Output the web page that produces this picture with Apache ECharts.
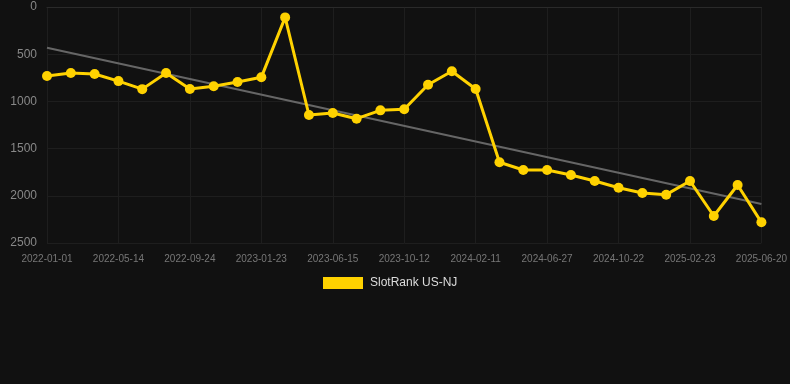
<!DOCTYPE html>
<html><head><meta charset="utf-8">
<script src="https://cdn.jsdelivr.net/npm/echarts@6/dist/echarts.min.js"></script>
<style>html,body{margin:0;padding:0;background:#111111;}#c{width:790px;height:384px;}</style>
</head><body><div id="c"></div>
<script>
var categories = ["2022-01-01","2022-02-14","2022-03-30","2022-05-14","2022-06-27","2022-08-10","2022-09-24","2022-11-03","2022-12-13","2023-01-23","2023-03-12","2023-04-29","2023-06-15","2023-07-25","2023-09-02","2023-10-12","2023-11-21","2023-12-31","2024-02-11","2024-03-27","2024-05-12","2024-06-27","2024-08-04","2024-09-13","2024-10-22","2024-12-03","2025-01-13","2025-02-23","2025-04-02","2025-05-11","2025-06-20"];
var rankValues = [730,700,710,785,870,700,869,840,794,745,110,1144,1123,1183,1095,1084,823,681,869,1645,1727,1727,1780,1843,1914,1970,1988,1843,2214,1886,2281];
var trendValues = [431,2087];
var yTicks = [0,500,1000,1500,2000,2500];

var chart = echarts.init(document.getElementById('c'), null, {renderer:'canvas'});
chart.setOption({
  backgroundColor:'#111111',
  animation:false,
  grid:{left:47,right:28,top:7,bottom:141,containLabel:false},
  legend:{
    data:[{name:'SlotRank US-NJ',icon:'rect'}],
    top:277,left:323,padding:0,itemWidth:40,itemHeight:12,itemGap:10,
    textStyle:{color:'#dddddd',fontSize:12,padding:[0,0,0,2],fontFamily:'Arial, Liberation Sans, sans-serif'}
  },
  xAxis:{
    type:'category',data:categories,boundaryGap:false,
    axisLine:{show:true,lineStyle:{color:'#2a2a2a'}},
    axisTick:{show:false},
    axisLabel:{interval:2,color:'#777777',fontSize:10,margin:11,fontFamily:'Arial, Liberation Sans, sans-serif'},
    splitLine:{show:true,interval:2,lineStyle:{color:'#1e1e1e',width:1}}
  },
  yAxis:{
    type:'value',inverse:true,min:yTicks[0],max:yTicks[yTicks.length-1],interval:500,
    axisLine:{show:false},axisTick:{show:false},
    axisLabel:{color:'#888888',fontSize:12,margin:10,formatter:function(v){return String(v);},fontFamily:'Arial, Liberation Sans, sans-serif'},
    splitLine:{show:true,lineStyle:{color:'#1e1e1e',width:1}}
  },
  series:[
    {
      name:'Trend',type:'line',
      data:[[categories[0],trendValues[0]],[categories[categories.length-1],trendValues[1]]],
      symbol:'none',lineStyle:{color:'#666666',width:2},z:1,silent:true
    },
    {
      name:'SlotRank US-NJ',type:'line',data:rankValues,
      symbol:'circle',symbolSize:10,
      lineStyle:{color:'#FFD200',width:3},
      itemStyle:{color:'#FFD200'},z:2
    }
  ]
});
</script></body></html>
